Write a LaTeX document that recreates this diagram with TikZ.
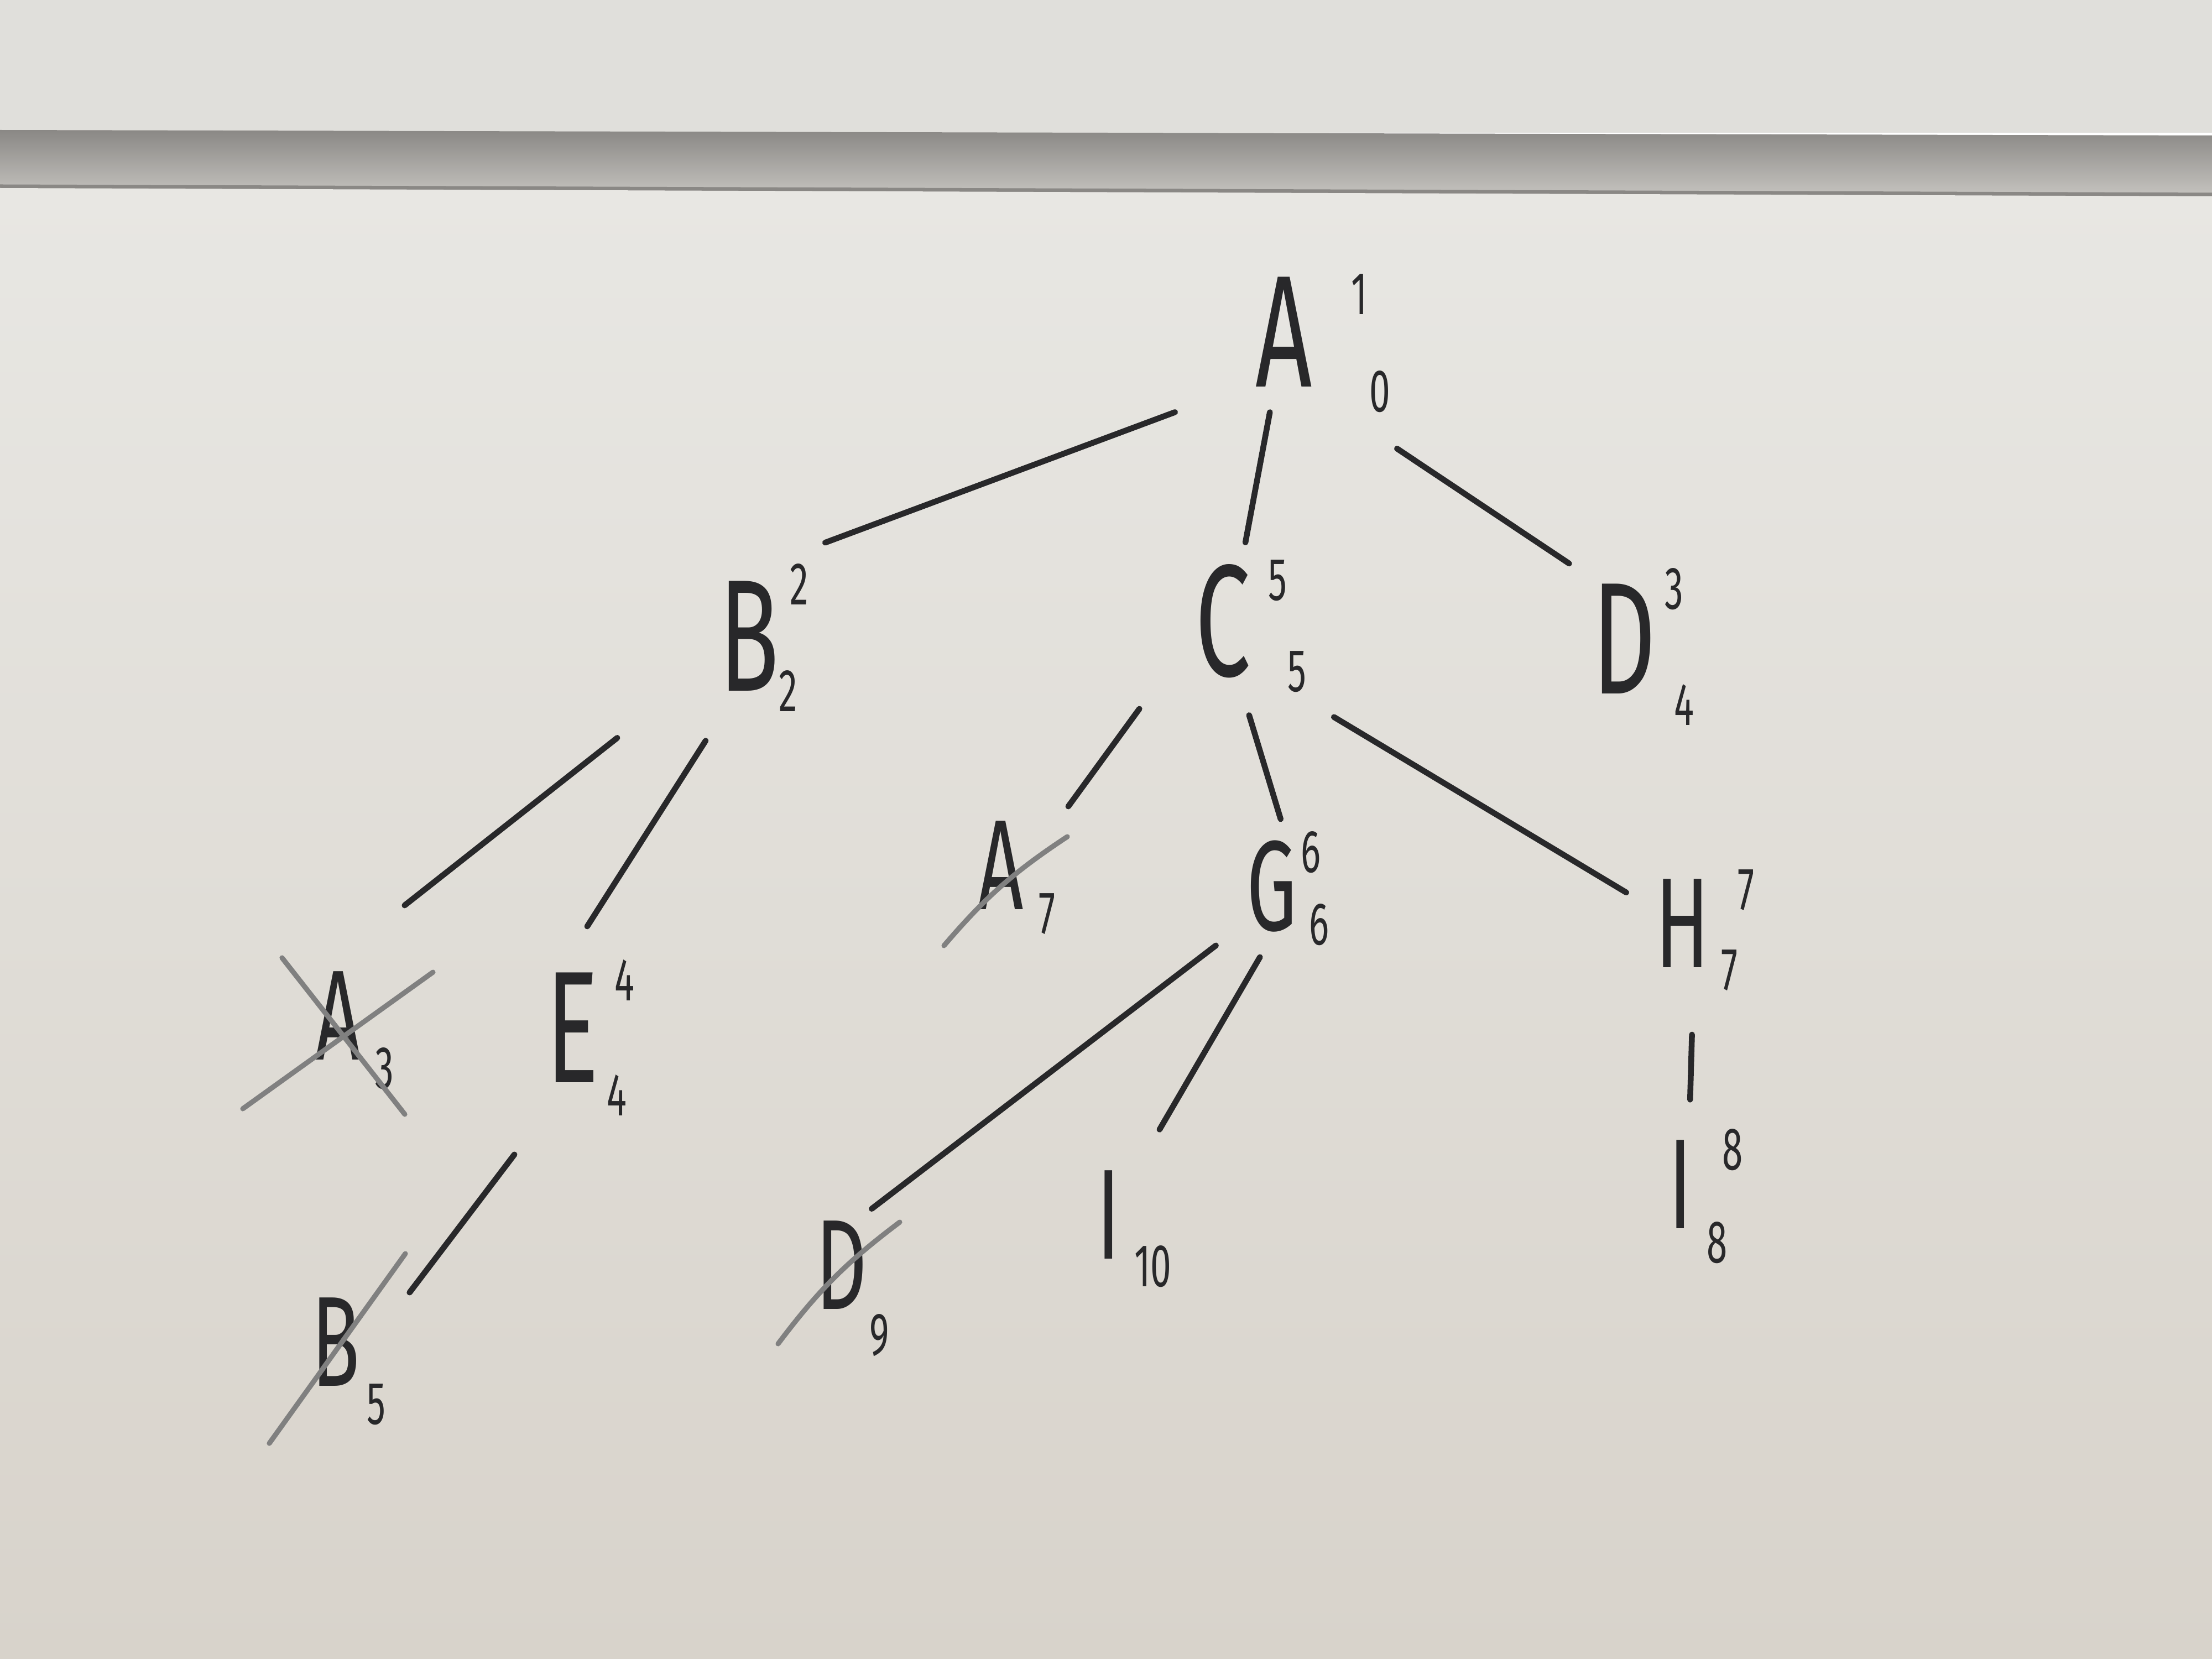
\documentclass[tikz,border=0pt]{standalone}
\usepackage{fontspec}
\setmainfont{Fira Sans}[FakeStretch=0.62]
\definecolor{ink}{RGB}{40,40,42}
\definecolor{wall}{RGB}{224,223,219}
\definecolor{boardtop}{RGB}{232,231,227}
\definecolor{boardlow}{RGB}{216,211,203}
\definecolor{ledgetop}{RGB}{138,136,133}
\definecolor{ledgelow}{RGB}{196,194,190}

\begin{document}
\begin{tikzpicture}[
    vtx/.style={
        circle,
        inner sep=0pt,
        minimum size=2.8cm,
        text=ink,
        font=\fontsize{82}{90}\selectfont
    },
    vtxs/.style={
        vtx,
        minimum size=2.3cm,
        font=\fontsize{66}{72}\selectfont
    },
    idx/.style={
        inner sep=0pt,
        text=ink,
        font=\fontsize{31}{36}\selectfont
    },
    edge/.style={
        draw=ink,
        line width=3pt,
        line cap=round
    },
    strike/.style={
        draw=black!50,
        line width=2.6pt,
        line cap=round
    }
]

%--- board ---
\useasboundingbox (0,0) rectangle (40,-30);
\fill[wall] (0,0) rectangle (40,-2.4);
\shade[top color=ledgetop, bottom color=ledgelow]
    (0,-2.35) -- (40,-2.45) -- (40,-3.52) -- (0,-3.37) -- cycle;
\draw[ledgetop, line width=2pt] (0,-3.37) -- (40,-3.52);
\shade[top color=boardtop, bottom color=boardlow]
    (0,-3.40) -- (40,-3.55) -- (40,-30) -- (0,-30) -- cycle;

%--- level 0 ---
\node[vtx] (a0) at (23.22,-6.00) {A};
\node[idx] (a0-up) at (24.58,-5.32) {1};
\node[idx] (a0-dn) at (24.95,-7.08) {0};

%--- level 1 ---
\node[vtx] (b2) at (13.55,-11.50) {B};
\node[idx] (b2-up) at (14.45,-10.57) {2};
\node[idx] (b2-dn) at (14.25,-12.50) {2};

\node[vtx] (c5) at (22.12,-11.23) {C};
\node[idx] (c5-up) at (23.10,-10.50) {5};
\node[idx] (c5-dn) at (23.45,-12.15) {5};

\node[vtx] (d4) at (29.37,-11.55) {D};
\node[idx] (d4-up) at (30.27,-10.65) {3};
\node[idx] (d4-dn) at (30.45,-12.75) {4};

%--- level 2 ---
\node[vtxs] (a3) at (6.12,-18.37) {A};
\node[idx] (a3-dn) at (6.95,-19.32) {3};

\node[vtx] (e4) at (10.35,-18.58) {E};
\node[idx] (e4-up) at (11.29,-17.73) {4};
\node[idx] (e4-dn) at (11.15,-19.80) {4};

\node[vtxs] (a7) at (18.10,-15.65) {A};
\node[idx] (a7-dn) at (18.93,-16.53) {7};

\node[vtxs] (g6) at (23.00,-16.03) {G};
\node[idx] (g6-up) at (23.70,-15.41) {6};
\node[idx] (g6-dn) at (23.85,-16.72) {6};

\node[vtxs] (h7) at (30.42,-16.70) {H};
\node[idx] (h7-up) at (31.57,-16.10) {7};
\node[idx] (h7-dn) at (31.27,-17.55) {7};

%--- level 3 ---
\node[vtxs] (b5) at (6.07,-24.27) {B};
\node[idx] (b5-dn) at (6.80,-25.40) {5};

\node[vtxs] (d9) at (15.22,-22.88) {D};
\node[idx] (d9-dn) at (15.90,-24.15) {9};

\node[vtxs] (i10) at (20.05,-21.97) {I};
\node[idx] (i10-dn) at (20.85,-22.90) {10};

\node[vtxs] (i8) at (30.39,-21.42) {I};
\node[idx] (i8-up) at (31.33,-20.79) {8};
\node[idx] (i8-dn) at (31.05,-22.47) {8};

%--- tree edges ---
\draw[edge, shorten <=1.12cm, shorten >=1.00cm] (a0.229) -- (b2.72);
\draw[edge, shorten <=0.07cm, shorten >=0.07cm] (a0.260) -- (c5.74);
\draw[edge, shorten <=1.61cm, shorten >=0.30cm] (a0.300) -- (d4.122);

\draw[edge, shorten <=1.61cm, shorten >=1.37cm] (b2.217) -- (a3.84);
\draw[edge, shorten <=0.66cm, shorten >=0.50cm] (b2.252) -- (e4.90);

\draw[edge, shorten <=0.80cm, shorten >=0.48cm] (c5.222) -- (a7.36);
\draw[edge, shorten <=0.36cm, shorten >=0.08cm] (c5.285) -- (g6.81);
\draw[edge, shorten <=1.28cm] (c5.310) -- (h7.151);

\draw[edge, shorten <=1.17cm, shorten >=0.49cm] (e4.256) -- (b5.26);

\draw[edge, shorten <=0.32cm] (g6.229) -- (d9.62);
\draw[edge, shorten <=0.15cm, shorten >=0.64cm] (g6.263) -- (i10.59);

\draw[edge, shorten <=0.87cm, shorten >=0.39cm] (h7.280) -- (i8.82);

%--- crossed out ---
\draw[strike] (5.10,-17.32) -- (7.32,-20.15);
\draw[strike] (7.83,-17.58) -- (4.39,-20.05);
\draw[strike] (17.07,-17.10) to[bend left=8] (19.30,-15.13);
\draw[strike] (4.87,-26.10) -- (7.33,-22.67);
\draw[strike] (14.07,-24.30) to[bend left=8] (16.27,-22.10);

\end{tikzpicture}
\end{document}
